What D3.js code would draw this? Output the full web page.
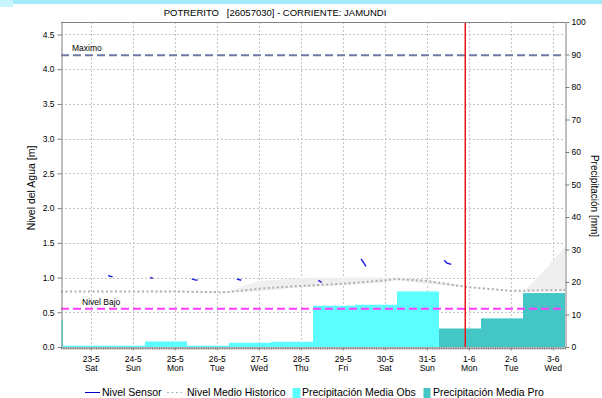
<!DOCTYPE html>
<html><head><meta charset="utf-8">
<script src="https://cdn.jsdelivr.net/npm/d3@7"></script>
<style>
body{margin:0;background:#fff}
svg{display:block}
text{font-family:"Liberation Sans",Arial,sans-serif;fill:#000}
</style>
</head><body>
<svg id="chart" width="602" height="398"></svg>
<script>
// ---------- data ----------
const title = "POTRERITO   [26057030] - CORRIENTE: JAMUNDI";
const domainStart = "2020-05-22 07:00";
const domainEnd = "2020-06-03 07:00";
const nowTime = "2020-05-31 22:00";

const tickDates = ["2020-05-23","2020-05-24","2020-05-25","2020-05-26","2020-05-27","2020-05-28","2020-05-29","2020-05-30","2020-05-31","2020-06-01","2020-06-02","2020-06-03"];
const tickDayLabels = ["23-5","24-5","25-5","26-5","27-5","28-5","29-5","30-5","31-5","1-6","2-6","3-6"];
const tickWeekLabels = ["Sat","Sun","Mon","Tue","Wed","Thu","Fri","Sat","Sun","Mon","Tue","Wed"];
const levelTicks = [0,0.5,1,1.5,2,2.5,3,3.5,4,4.5];
const precipTicks = [0,10,20,30,40,50,60,70,80,90,100];

const levelMax = 4.2;   // Maximo
const levelLow = 0.55;  // Nivel Bajo

// 24 h precipitation (period start, mm)
const obsPeriodStart = ["2020-05-21 07:00","2020-05-22 07:00","2020-05-23 07:00","2020-05-24 07:00","2020-05-25 07:00","2020-05-26 07:00","2020-05-27 07:00","2020-05-28 07:00","2020-05-29 07:00","2020-05-30 07:00"];
const precipObs = [8.4, 0.4, 0.4, 1.7, 0.4, 1.3, 1.6, 12.7, 13.0, 17.1];
const proPeriodStart = ["2020-05-31 07:00","2020-06-01 07:00","2020-06-02 07:00"];
const precipPro = [5.7, 8.8, 16.6];

// Nivel Sensor (segments with gaps)
const sensorTimes = [
  ["2020-05-23 10:00","2020-05-23 11:00","2020-05-23 12:30"],
  ["2020-05-24 10:00","2020-05-24 11:30"],
  ["2020-05-25 09:45","2020-05-25 11:00","2020-05-25 13:00"],
  ["2020-05-26 11:30","2020-05-26 14:00"],
  ["2020-05-28 10:00","2020-05-28 12:00"],
  ["2020-05-29 10:30","2020-05-29 12:00","2020-05-29 13:15"],
  ["2020-05-31 10:00","2020-05-31 11:30","2020-05-31 14:00"]
];
const sensorValues = [
  [1.03, 1.02, 1.01],
  [1.00, 0.99],
  [0.98, 0.97, 0.96],
  [0.98, 0.96],
  [0.96, 0.93],
  [1.27, 1.21, 1.16],
  [1.25, 1.21, 1.19]
];

// Nivel Medio Historico (mean with min/max band)
const histTimes = ["2020-05-22 07:00","2020-05-23 00:00","2020-05-24 00:00","2020-05-25 00:00","2020-05-26 00:00","2020-05-26 06:00","2020-05-27 00:00","2020-05-28 00:00","2020-05-29 00:00","2020-05-30 00:00","2020-05-30 07:00","2020-05-31 00:00","2020-06-01 00:00","2020-06-02 00:00","2020-06-02 08:00","2020-06-03 00:00","2020-06-03 07:00"];
const histMean = [0.80,0.80,0.80,0.80,0.79,0.79,0.84,0.88,0.91,0.96,0.98,0.95,0.86,0.81,0.81,0.82,0.82];
const histLow  = [0.80,0.80,0.80,0.79,0.78,0.78,0.80,0.86,0.89,0.93,0.96,0.91,0.86,0.81,0.80,0.80,0.80];
const histHigh = [0.80,0.80,0.80,0.80,0.80,0.80,0.95,0.99,1.00,1.00,1.00,0.97,0.87,0.81,0.81,1.24,1.44];

const legendItems = ["Nivel Sensor","Nivel Medio Historico","Precipitación Media Obs","Precipitación Media Pro"];

// ---------- colours ----------
const cObs = "#5cffff", cPro = "#45c6c6", cSensor = "#2323e6", cHist = "#b0b0b0", cBand = "#efefef";
const cMax = "#6c7aa4", cLow = "#ff3cff", cNow = "#e81818", cGrid = "#c4c4c4", cAxis = "#808080";

// ---------- layout ----------
const svg = d3.select("#chart");
const L = 61, R = 565, T = 22, B = 347;
const parse = d3.timeParse("%Y-%m-%d %H:%M");
const parseDay = d3.timeParse("%Y-%m-%d");
const x = d3.scaleTime().domain([parse(domainStart), parse(domainEnd)]).range([L, R]);
const yL = d3.scaleLinear().domain([0, 4.68]).range([B, T]);
const yR = d3.scaleLinear().domain([0, 100]).range([B, T]);

// top banner
svg.append("rect").attr("x",0).attr("y",0).attr("width",602).attr("height",4).attr("fill","#a4edf8");
svg.append("rect").attr("x",0).attr("y",0).attr("width",13).attr("height",7).attr("fill","#c8f4fb");

// title
svg.append("text").attr("x",275).attr("y",16).attr("text-anchor","middle")
  .style("font-size","9.5px").attr("xml:space","preserve").text(title);

svg.append("defs").append("clipPath").attr("id","clip")
  .append("rect").attr("x",L).attr("y",T).attr("width",R-L).attr("height",B-T);

const plot = svg.append("g").attr("clip-path","url(#clip)");

// grid
plot.selectAll("line.hg").data(levelTicks.slice(1)).join("line")
  .attr("x1",L).attr("x2",R).attr("y1",d=>Math.round(yL(d))+0.5).attr("y2",d=>Math.round(yL(d))+0.5)
  .attr("stroke",cGrid).attr("stroke-dasharray","2,2");
plot.selectAll("line.vg").data(tickDates).join("line")
  .attr("x1",d=>Math.round(x(parseDay(d)))+0.5).attr("x2",d=>Math.round(x(parseDay(d)))+0.5)
  .attr("y1",T).attr("y2",B)
  .attr("stroke",cGrid).attr("stroke-dasharray","2,2");

// historic band
const hist = histTimes.map((t,i)=>({t:parse(t), m:histMean[i], lo:histLow[i], hi:histHigh[i]}));
plot.append("path").datum(hist)
  .attr("d", d3.area().x(d=>x(d.t)).y0(d=>yL(d.lo)).y1(d=>yL(d.hi)))
  .attr("fill",cBand);

// precipitation bars
const day = 24*3600*1000;
const obs = obsPeriodStart.map((t,i)=>({t0:parse(t), t1:new Date(+parse(t)+day), v:precipObs[i]}));
const pro = proPeriodStart.map((t,i)=>({t0:parse(t), t1:new Date(+parse(t)+day), v:precipPro[i]}));
plot.selectAll("rect.obs").data(obs.filter(d=>d.t1>x.domain()[0])).join("rect")
  .attr("x",d=>x(d.t0)).attr("width",d=>x(d.t1)-x(d.t0))
  .attr("y",d=>yR(d.v)).attr("height",d=>yR(0)-yR(d.v)).attr("fill",cObs);
// sliver of the period ending at the chart start
svg.selectAll("rect.prev").data(obs.filter(d=>+d.t1===+x.domain()[0])).join("rect")
  .attr("x",d=>x(d.t1)+0.5).attr("width",1.5)
  .attr("y",d=>yR(d.v)).attr("height",d=>yR(0)-yR(d.v)).attr("fill",cObs);
plot.selectAll("rect.pro").data(pro).join("rect")
  .attr("x",d=>x(d.t0)).attr("width",d=>x(d.t1)-x(d.t0))
  .attr("y",d=>yR(d.v)).attr("height",d=>yR(0)-yR(d.v)).attr("fill",cPro);

// historic mean line
plot.append("path").datum(hist)
  .attr("d", d3.line().x(d=>x(d.t)).y(d=>yL(d.m)))
  .attr("fill","none").attr("stroke",cHist).attr("stroke-width",2).attr("stroke-dasharray","2,2.5");

// thresholds
plot.append("line").attr("x1",L).attr("x2",R).attr("y1",yL(levelMax)).attr("y2",yL(levelMax))
  .attr("stroke",cMax).attr("stroke-width",2).attr("stroke-dasharray","8,4");
plot.append("line").attr("x1",L).attr("x2",R).attr("y1",yL(levelLow)).attr("y2",yL(levelLow))
  .attr("stroke",cLow).attr("stroke-width",2).attr("stroke-dasharray","8,4");
svg.append("text").attr("x",72).attr("y",yL(levelMax)-4).style("font-size","8.5px").text("Maximo");
svg.append("text").attr("x",82).attr("y",yL(levelLow)-4).style("font-size","8.5px").text("Nivel Bajo");

// sensor segments
const line = d3.line().x(d=>x(d.t)).y(d=>yL(d.v));
const segs = sensorTimes.map((ts,i)=>ts.map((t,j)=>({t:parse(t), v:sensorValues[i][j]})));
plot.selectAll("path.sensor").data(segs).join("path")
  .attr("d",line).attr("fill","none").attr("stroke",cSensor).attr("stroke-width",1.5);

// now line
const xNow = x(parse(nowTime));
plot.append("rect").attr("x",xNow-0.75).attr("width",1.5)
  .attr("y",T).attr("height",B-T).attr("fill",cNow);

// frame
svg.append("line").attr("x1",L).attr("x2",R).attr("y1",T+0.5).attr("y2",T+0.5).attr("stroke",cAxis);

// axes
function styleAxis(g){
  g.select(".domain").attr("stroke",cAxis);
  g.selectAll(".tick line").attr("stroke",cAxis);
  g.selectAll("text").style("font-size","8.5px").attr("fill","#000");
}
svg.append("g").attr("transform",`translate(${L+0.5},0)`)
  .call(d3.axisLeft(yL).tickValues(levelTicks).tickFormat(d3.format(".1f")).tickSize(4).tickSizeOuter(0).tickPadding(3))
  .call(styleAxis);
svg.append("g").attr("transform",`translate(${R+0.5},0)`)
  .call(d3.axisRight(yR).tickValues(precipTicks).tickFormat(d3.format("d")).tickSize(4).tickSizeOuter(0).tickPadding(2))
  .call(styleAxis);
// minor hourly ticks on time axis
svg.append("g").attr("transform",`translate(0,${B+0.5})`)
  .call(d3.axisBottom(x).ticks(d3.timeHour.every(1)).tickSize(2).tickFormat("").tickSizeOuter(0))
  .call(styleAxis);
const xa = svg.append("g").attr("transform",`translate(0,${B+0.5})`)
  .call(d3.axisBottom(x).tickValues(tickDates.map(parseDay)).tickSize(3).tickSizeOuter(0).tickPadding(5)
    .tickFormat((d,i)=>tickDayLabels[i]))
  .call(styleAxis);
xa.select(".domain").remove();
xa.selectAll(".tick text").each(function(d,i){
  d3.select(this).append("tspan").attr("x",0).attr("dy","1.15em").text(tickWeekLabels[i]);
});

// axis titles
svg.append("text").attr("transform","translate(35,188) rotate(-90)").attr("text-anchor","middle")
  .style("font-size","10.5px").text("Nivel del Agua [m]");
svg.append("text").attr("transform","translate(591,196) rotate(90)").attr("text-anchor","middle")
  .style("font-size","10px").text("Precipitación [mm]");

// legend
const lg = svg.append("g").style("font-size","10.5px");
lg.append("line").attr("x1",85).attr("x2",100).attr("y1",392.5).attr("y2",392.5).attr("stroke","#0000cc");
lg.append("text").attr("x",102).attr("y",396).text(legendItems[0]);
lg.append("line").attr("x1",167).attr("x2",182).attr("y1",392.5).attr("y2",392.5).attr("stroke",cHist).attr("stroke-dasharray","2,2.5");
lg.append("text").attr("x",187).attr("y",396).text(legendItems[1]);
lg.append("rect").attr("x",292.5).attr("y",388).attr("width",8).attr("height",10).attr("fill",cObs);
lg.append("text").attr("x",302).attr("y",396).text(legendItems[2]);
lg.append("rect").attr("x",423.5).attr("y",388).attr("width",7).attr("height",10).attr("fill",cPro);
lg.append("text").attr("x",433).attr("y",396).text(legendItems[3]);
</script>
</body></html>
